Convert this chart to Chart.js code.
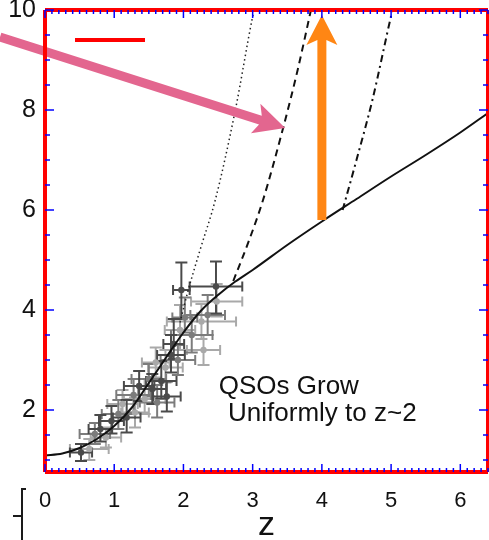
<!DOCTYPE html>
<html>
<head>
<meta charset="utf-8">
<script src="https://cdn.jsdelivr.net/npm/chart.js@4.4.1/dist/chart.umd.min.js"></script>
<style>
  html, body { margin: 0; padding: 0; background: #fff; }
</style>
</head>
<body>
<canvas id="growth" width="489" height="540"></canvas>
<script>
// axis ticks that get labels
let xTickValues = [0, 1, 2, 3, 4, 5, 6];
let yTickValues = [2, 4, 6, 8, 10];
let xRange = [0, 6.4];
let yRange = [0.76, 10];

// uniform growth track (solid line)
let trackZ = [0, 0.25, 0.5, 0.75, 1.0, 1.25, 1.5, 1.75, 2.0, 2.25, 2.5, 2.75, 3.0, 3.5, 4.0, 4.5, 5.0, 5.5, 6.0, 6.4];
let trackY = [1.09, 1.13, 1.24, 1.42, 1.68, 2.04, 2.54, 3.05, 3.55, 3.98, 4.3, 4.57, 4.8, 5.3, 5.77, 6.22, 6.67, 7.1, 7.55, 7.94];

// early departures from the track
let dottedZ = [1.95, 2.07, 2.24, 2.46, 2.75, 3.0, 3.03];
let dottedY = [3.75, 4.4, 5.2, 6.2, 8.0, 9.87, 10.05];
let dashedZ = [2.72, 2.95, 3.15, 3.44, 3.65, 3.85];
let dashedY = [4.58, 5.4, 6.2, 7.64, 8.8, 10.05];
let dashDotZ = [4.3, 4.5, 4.73, 5.01, 5.03];
let dashDotY = [6.0, 7.0, 8.2, 9.94, 10.05];

// QSO measurements with errors (tone: 0 dark, 1 mid, 2 light)
let qsoZ      = [0.52, 0.64, 0.72, 0.80, 0.88, 0.96, 1.06, 1.18, 1.12, 1.28, 1.36, 1.44, 1.50, 1.55, 1.62, 1.68, 1.76, 1.74, 1.82, 1.86, 1.92, 1.95, 2.02, 1.97, 2.47, 2.26, 2.48, 2.29, 2.12, 1.60, 1.30, 2.35];
let qsoY      = [1.15, 1.22, 1.52, 1.62, 1.45, 1.78, 1.92, 1.85, 2.12, 2.30, 2.48, 2.22, 2.62, 2.42, 2.15, 2.58, 2.27, 2.85, 3.10, 3.32, 3.00, 3.60, 3.85, 4.40, 4.47, 3.77, 4.17, 3.20, 3.50, 2.95, 1.95, 3.90];
let qsoZErr   = [0.16, 0.28, 0.22, 0.17, 0.22, 0.18, 0.24, 0.20, 0.22, 0.25, 0.22, 0.30, 0.25, 0.20, 0.25, 0.22, 0.20, 0.25, 0.20, 0.15, 0.25, 0.22, 0.18, 0.12, 0.38, 0.50, 0.37, 0.24, 0.30, 0.20, 0.20, 0.25];
let qsoYErrLo = [0.17, 0.22, 0.20, 0.25, 0.20, 0.25, 0.30, 0.30, 0.25, 0.35, 0.30, 0.30, 0.35, 0.30, 0.30, 0.35, 0.30, 0.30, 0.35, 0.30, 0.30, 0.40, 0.30, 0.58, 0.54, 0.35, 0.30, 0.30, 0.35, 0.30, 0.30, 0.40];
let qsoYErrHi = [0.17, 0.20, 0.22, 0.28, 0.20, 0.30, 0.28, 0.35, 0.28, 0.32, 0.30, 0.40, 0.30, 0.30, 0.35, 0.40, 0.30, 0.35, 0.40, 0.50, 0.30, 0.50, 0.40, 0.55, 0.50, 0.35, 0.35, 0.30, 0.40, 0.30, 0.30, 0.40];
let qsoTone   = [0, 2, 1, 0, 2, 0, 1, 0, 2, 1, 0, 2, 1, 0, 1, 0, 0, 2, 0, 0, 1, 2, 1, 0, 0, 2, 2, 2, 1, 2, 2, 1];
let toneColors = ['#4a4a4a', '#7c7c7c', '#a9a9a9'];

// annotation arrows: [z, y] start and end
let pinkArrow = [[-0.65, 9.46], [3.47, 7.64]];
let orangeArrow = [[4.0, 5.8], [4.0, 9.9]];

let fontFamily = "'Liberation Sans', Arial, Helvetica, sans-serif";
let frameColor = 'red';

function toXY(xs, ys) {
  return xs.map((v, i) => ({ x: v, y: ys[i] }));
}

function strokeLine(ctx, x0, y0, x1, y1) {
  ctx.beginPath();
  ctx.moveTo(x0, y0);
  ctx.lineTo(x1, y1);
  ctx.stroke();
}

// filled arrow with a slightly swept-back head
function drawArrow(ctx, x0, y0, x1, y1, color, shaftW, headL, headW) {
  let ang = Math.atan2(y1 - y0, x1 - x0);
  let len = Math.hypot(x1 - x0, y1 - y0);
  ctx.save();
  ctx.translate(x0, y0);
  ctx.rotate(ang);
  ctx.fillStyle = color;
  ctx.beginPath();
  ctx.moveTo(0, -shaftW / 2);
  ctx.lineTo(len - headL + 5, -shaftW / 2);
  ctx.lineTo(len - headL, -headW / 2);
  ctx.lineTo(len, 0);
  ctx.lineTo(len - headL, headW / 2);
  ctx.lineTo(len - headL + 5, shaftW / 2);
  ctx.lineTo(0, shaftW / 2);
  ctx.closePath();
  ctx.fill();
  ctx.restore();
}

// error bars with caps, drawn under everything else
const errorBars = {
  id: 'errorBars',
  beforeDatasetsDraw(chart) {
    let ctx = chart.ctx;
    let x = chart.scales.x, y = chart.scales.y;
    ctx.save();
    ctx.lineWidth = 2;
    [2, 1, 0].forEach(tone => {
      ctx.strokeStyle = toneColors[tone];
      qsoZ.forEach((z, i) => {
        if (qsoTone[i] !== tone) return;
        let px = x.getPixelForValue(z);
        let py = y.getPixelForValue(qsoY[i]);
        let xl = x.getPixelForValue(z - qsoZErr[i]);
        let xr = x.getPixelForValue(z + qsoZErr[i]);
        let yb = y.getPixelForValue(qsoY[i] - qsoYErrLo[i]);
        let yt = y.getPixelForValue(qsoY[i] + qsoYErrHi[i]);
        strokeLine(ctx, xl, py, xr, py);
        strokeLine(ctx, px, yb, px, yt);
        strokeLine(ctx, xl, py - 5, xl, py + 5);
        strokeLine(ctx, xr, py - 5, xr, py + 5);
        strokeLine(ctx, px - 6, yb, px + 6, yb);
        strokeLine(ctx, px - 6, yt, px + 6, yt);
      });
    });
    ctx.restore();
  }
};

// arrows, the note and the inward ticks on all four sides
const notes = {
  id: 'notes',
  afterDraw(chart) {
    let ctx = chart.ctx;
    let x = chart.scales.x, y = chart.scales.y;
    let p0 = pinkArrow[0], p1 = pinkArrow[1];
    drawArrow(ctx, x.getPixelForValue(p0[0]), y.getPixelForValue(p0[1]),
      x.getPixelForValue(p1[0]), y.getPixelForValue(p1[1]), '#e3668f', 9, 31, 31);
    let o0 = orangeArrow[0], o1 = orangeArrow[1];
    drawArrow(ctx, x.getPixelForValue(o0[0]), y.getPixelForValue(o0[1]),
      x.getPixelForValue(o1[0]), y.getPixelForValue(o1[1]), '#ff8614', 9, 30, 31);

    ctx.save();
    ctx.fillStyle = '#111';
    ctx.font = '26px ' + fontFamily;
    ctx.textBaseline = 'alphabetic';
    ctx.fillText('QSOs Grow', x.getPixelForValue(2.51), y.getPixelForValue(2.32));
    ctx.fillText('Uniformly to z~2', x.getPixelForValue(2.645), y.getPixelForValue(1.78));

    let left = x.getPixelForValue(xRange[0]), right = x.getPixelForValue(xRange[1]);
    let top = y.getPixelForValue(yRange[1]), bottom = y.getPixelForValue(yRange[0]);
    ctx.strokeStyle = frameColor;
    ctx.lineWidth = 4;
    strokeLine(ctx, left, top, right, top);
    strokeLine(ctx, right, top, right, bottom);
    strokeLine(ctx, right, bottom, left, bottom);
    strokeLine(ctx, left, bottom, left, top);
    strokeLine(ctx, left + 30, top + 30, left + 100, top + 30);

    ctx.strokeStyle = 'blue';
    ctx.lineWidth = 1.5;
    for (let i = 0; i <= 64; i++) {
      let px = x.getPixelForValue(i / 10);
      let len = i % 10 === 0 ? 8 : 4;
      strokeLine(ctx, px, bottom, px, bottom - len);
      strokeLine(ctx, px, top, px, top + len);
    }
    for (let i = 2; i <= 20; i++) {
      let py = y.getPixelForValue(i / 2);
      let len = i % 4 === 0 ? 9 : 5;
      strokeLine(ctx, left, py, left + len, py);
      strokeLine(ctx, right, py, right - len, py);
    }

    ctx.strokeStyle = '#1a1a1a';
    ctx.lineWidth = 2;
    strokeLine(ctx, 22, 488, 22, 540);
    strokeLine(ctx, 22, 489, 26, 489);
    strokeLine(ctx, 13, 516, 22, 516);
    ctx.restore();
  }
};

let lineStyle = (xs, ys, width, dash, color) => ({
  type: 'line',
  data: toXY(xs, ys),
  borderColor: color,
  borderWidth: width,
  borderDash: dash,
  pointRadius: 0,
  cubicInterpolationMode: 'monotone',
  order: 1
});

new Chart(document.getElementById('growth').getContext('2d'), {
  type: 'scatter',
  data: {
    datasets: [
      lineStyle(trackZ, trackY, 2, [], '#111'),
      lineStyle(dottedZ, dottedY, 1.5, [1.5, 3], '#222'),
      lineStyle(dashedZ, dashedY, 2, [7, 5], '#111'),
      lineStyle(dashDotZ, dashDotY, 2, [7, 4, 2, 4], '#111'),
      {
        data: toXY(qsoZ, qsoY),
        pointRadius: 3.2,
        pointBackgroundColor: qsoTone.map(t => toneColors[t]),
        pointBorderWidth: 0,
        order: 5
      }
    ]
  },
  options: {
    responsive: false,
    animation: false,
    layout: { autoPadding: false, padding: { left: 0, right: 1, top: 10, bottom: 0 } },
    plugins: { legend: { display: false }, tooltip: { enabled: false } },
    scales: {
      x: {
        type: 'linear',
        min: xRange[0],
        max: xRange[1],
        grid: { display: false, drawTicks: false },
        border: { display: false },
        afterBuildTicks: scale => { scale.ticks = xTickValues.map(v => ({ value: v })); },
        afterFit: scale => {
          scale.height = 68;
          scale.paddingLeft = 0;
          scale.paddingRight = 0;
        },
        ticks: {
          padding: 16,
          color: '#111',
          font: { family: fontFamily, size: 22 },
          maxRotation: 0
        },
        title: {
          display: true,
          text: 'z',
          color: '#111',
          font: { family: fontFamily, size: 34, lineHeight: 1 },
          padding: { top: 0, bottom: -3 }
        }
      },
      y: {
        type: 'linear',
        min: yRange[0],
        max: yRange[1],
        grid: { display: false, drawTicks: false },
        border: { display: false },
        afterBuildTicks: scale => { scale.ticks = yTickValues.map(v => ({ value: v })); },
        afterFit: scale => {
          scale.width = 45;
          scale.paddingTop = 0;
          scale.paddingBottom = 0;
        },
        ticks: {
          padding: 9,
          color: '#111',
          font: { family: fontFamily, size: 25 }
        }
      }
    }
  },
  plugins: [errorBars, notes]
});
</script>
</body>
</html>
